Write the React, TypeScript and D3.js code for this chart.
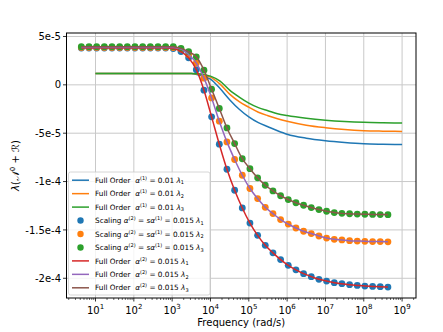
import { useEffect } from "react";
import * as d3 from "d3";

// frequencies (rad/s) of the scaling points and of the alpha(2) full-order lines
const freqDense = [
  4.27, 6.76, 10.7, 17.0, 26.9, 42.7, 67.6, 107, 170, 269, 427, 676, 1070, 1700,
  2690, 4270, 6760, 1.07e4, 1.7e4, 2.69e4, 4.27e4, 6.76e4, 1.07e5, 1.7e5,
  2.69e5, 4.27e5, 6.76e5, 1.07e6, 1.7e6, 2.69e6, 4.27e6, 6.76e6, 1.07e7,
  1.7e7, 2.69e7, 4.27e7, 6.76e7, 1.07e8, 1.7e8, 2.69e8, 4.27e8,
];
// values in units of 1e-5
const alpha2L1 = [
  3.8, 3.8, 3.8, 3.8, 3.8, 3.8, 3.8, 3.8, 3.8, 3.8, 3.8, 3.8, 3.75, 3.44, 2.8,
  1.57, -0.55, -3.31, -6.14, -8.73, -10.9, -12.73, -14.29, -15.56, -16.59,
  -17.37, -18.07, -18.66, -19.13, -19.52, -19.83, -20.11, -20.29, -20.46,
  -20.56, -20.66, -20.74, -20.81, -20.84, -20.87, -20.91,
];
const alpha2L2 = [
  3.87, 3.87, 3.87, 3.87, 3.87, 3.87, 3.87, 3.87, 3.87, 3.87, 3.87, 3.87, 3.85,
  3.7, 3.13, 2.25, 0.69, -1.35, -3.76, -5.9, -7.72, -9.35, -10.72, -11.76,
  -12.66, -13.31, -13.93, -14.4, -14.8, -15.14, -15.38, -15.63, -15.84, -15.97,
  -16.04, -16.11, -16.15, -16.18, -16.21, -16.21, -16.23,
];
const alpha2L3 = [
  3.95, 3.95, 3.95, 3.95, 3.95, 3.95, 3.95, 3.95, 3.95, 3.95, 3.95, 3.95, 3.95,
  3.77, 3.42, 2.9, 1.52, -0.45, -2.44, -4.46, -6.07, -7.64, -8.67, -9.61,
  -10.38, -10.97, -11.47, -11.86, -12.19, -12.45, -12.69, -12.9, -13.07,
  -13.21, -13.29, -13.33, -13.36, -13.38, -13.4, -13.41, -13.42,
];

// alpha(1) full-order lines
const freqA1 = [
  10, 100, 1000, 3162, 5623, 1e4, 17783, 31623, 56234, 1e5, 177828, 316228,
  562341, 1e6, 3.162e6, 1e7, 3.162e7, 1e8, 3.162e8, 1e9,
];
const alpha1L1 = [
  1.18, 1.18, 1.18, 1.16, 0.95, 0.59, -0.39, -1.53, -2.52, -3.31, -3.91, -4.33,
  -4.74, -5.1, -5.52, -5.78, -5.96, -6.09, -6.14, -6.17,
];
const alpha1L2 = [
  1.18, 1.18, 1.18, 1.18, 1.06, 0.8, 0.07, -0.96, -1.74, -2.31, -2.83, -3.19,
  -3.5, -3.76, -4.17, -4.43, -4.62, -4.74, -4.79, -4.82,
];
const alpha1L3 = [
  1.18, 1.18, 1.18, 1.18, 1.11, 0.9, 0.38, -0.55, -1.27, -1.89, -2.36, -2.67,
  -2.98, -3.17, -3.45, -3.65, -3.79, -3.88, -3.92, -3.94,
];

const yTickValues = [5e-5, 0, -5e-5, -1e-4, -1.5e-4, -2e-4];
const yTickLabels = ["5e-5", "0", "-5e-5", "-1e-4", "-1.5e-4", "-2e-4"];
const xExponents = [1, 2, 3, 4, 5, 6, 7, 8, 9];

const C = ["#1f77b4", "#ff7f0e", "#2ca02c", "#d62728", "#9467bd", "#8c564b"];
const FONT = "DejaVu Sans, sans-serif";

const legendItems = [
  { kind: "line", color: C[0], pre: "Full Order  ", a: "(1)", mid: " = 0.01 ", l: "1", s: false },
  { kind: "line", color: C[1], pre: "Full Order  ", a: "(1)", mid: " = 0.01 ", l: "2", s: false },
  { kind: "line", color: C[2], pre: "Full Order  ", a: "(1)", mid: " = 0.01 ", l: "3", s: false },
  { kind: "dot", color: C[0], pre: "Scaling ", a: "(2)", mid: " = 0.015 ", l: "1", s: true },
  { kind: "dot", color: C[1], pre: "Scaling ", a: "(2)", mid: " = 0.015 ", l: "2", s: true },
  { kind: "dot", color: C[2], pre: "Scaling ", a: "(2)", mid: " = 0.015 ", l: "3", s: true },
  { kind: "line", color: C[3], pre: "Full Order  ", a: "(2)", mid: " = 0.015 ", l: "1", s: false },
  { kind: "line", color: C[4], pre: "Full Order  ", a: "(2)", mid: " = 0.015 ", l: "2", s: false },
  { kind: "line", color: C[5], pre: "Full Order  ", a: "(2)", mid: " = 0.015 ", l: "3", s: false },
];

export default function App() {
  useEffect(() => {
    document.body.style.margin = "0";
  }, []);

  const W = 443,
    H = 332;
  const left = 66.5,
    right = 416,
    top = 33,
    bottom = 298;

  const x = d3
    .scaleLog()
    .domain([Math.pow(10, 0.243), Math.pow(10, 9.363)])
    .range([left, right]);
  const y = d3.scaleLinear().domain([5.36e-5, -2.204e-4]).range([top, bottom]);

  const toPts = (fs: number[], vs: number[]) =>
    fs.map((f, i) => [x(f), y(vs[i] * 1e-5)] as [number, number]);
  const line = d3.line().curve(d3.curveMonotoneX);

  const minor: number[] = [];
  for (let e = 0; e <= 9; e++) {
    for (let m = 2; m <= 9; m++) {
      const v = m * Math.pow(10, e);
      if (v > x.domain()[0] && v < x.domain()[1]) minor.push(v);
    }
  }

  const a1 = [alpha1L1, alpha1L2, alpha1L3];
  const a2 = [alpha2L1, alpha2L2, alpha2L3];

  const lgX = 68.5,
    lgY = 172,
    lgW = 141.5,
    lgH = 123,
    rowH = 13.45;

  return (
    <svg
      width={W}
      height={H}
      style={{ position: "absolute", left: 0, top: 0, background: "#fff" }}
      fontFamily={FONT}
    >
      {/* grid */}
      <g stroke="#c9c9c9" strokeWidth={1}>
        {xExponents.map((e) => (
          <line key={e} x1={x(Math.pow(10, e))} x2={x(Math.pow(10, e))} y1={top} y2={bottom} />
        ))}
        {yTickValues.map((v) => (
          <line key={v} x1={left} x2={right} y1={y(v)} y2={y(v)} />
        ))}
      </g>

      {/* alpha(1) full order */}
      {a1.map((vs, i) => (
        <path key={"a1" + i} d={line(toPts(freqA1, vs)) || ""} fill="none" stroke={C[i]} strokeWidth={1.5} />
      ))}

      {/* scaling dots */}
      {a2.map((vs, i) => (
        <g key={"s" + i} fill={C[i]}>
          {toPts(freqDense, vs).map((p, j) => (
            <circle key={j} cx={p[0]} cy={p[1]} r={3.4} />
          ))}
        </g>
      ))}

      {/* alpha(2) full order */}
      {a2.map((vs, i) => (
        <path key={"a2" + i} d={line(toPts(freqDense, vs)) || ""} fill="none" stroke={C[i + 3]} strokeWidth={1.5} />
      ))}

      {/* spines */}
      <rect x={left} y={top} width={right - left} height={bottom - top} fill="none" stroke="#000" strokeWidth={1} />

      {/* x ticks */}
      <g stroke="#000" strokeWidth={0.8}>
        {xExponents.map((e) => (
          <line key={e} x1={x(Math.pow(10, e))} x2={x(Math.pow(10, e))} y1={bottom} y2={bottom + 3.5} />
        ))}
        {minor.map((v) => (
          <line key={v} x1={x(v)} x2={x(v)} y1={bottom} y2={bottom + 2} strokeWidth={0.6} />
        ))}
      </g>
      <g fontSize={10} textAnchor="middle" fill="#000">
        {xExponents.map((e) => (
          <text key={e} x={x(Math.pow(10, e))} y={313.5}>
            10
            <tspan dy={-4.5} fontSize={7}>
              {e}
            </tspan>
          </text>
        ))}
      </g>
      <text x={(left + right) / 2} y={325.5} fontSize={10} textAnchor="middle">
        Frequency (rad/s)
      </text>

      {/* y ticks */}
      <g stroke="#000" strokeWidth={0.8}>
        {yTickValues.map((v) => (
          <line key={v} x1={left - 3.5} x2={left} y1={y(v)} y2={y(v)} />
        ))}
      </g>
      <g fontSize={10} textAnchor="end">
        {yTickValues.map((v, i) => (
          <text key={v} x={61} y={y(v) + 3.6}>
            {yTickLabels[i]}
          </text>
        ))}
      </g>
      <text
        transform={`translate(19, ${(top + bottom) / 2}) rotate(-90)`}
        fontSize={10}
        textAnchor="middle"
        style={{ whiteSpace: "pre" }}
      >
        <tspan fontStyle="italic">λ</tspan>(<tspan fontStyle="italic">𝒩</tspan>
        <tspan dy={-4} fontSize={7}>0</tspan>
        <tspan dy={4}> + </tspan>
        <tspan fontStyle="italic">ℛ</tspan>)
      </text>

      {/* legend */}
      <rect x={lgX} y={lgY} width={lgW} height={lgH} rx={2} fill="#fff" fillOpacity={0.8} stroke="#cccccc" strokeWidth={0.8} />
      {legendItems.map((it, i) => {
        const cy = 180.2 + i * rowH;
        return (
          <g key={i}>
            {it.kind === "line" ? (
              <line x1={72} x2={89} y1={cy} y2={cy} stroke={it.color} strokeWidth={1.5} />
            ) : (
              <circle cx={80.5} cy={cy} r={3.2} fill={it.color} />
            )}
            <text x={95} y={cy + 2.6} fontSize={7.3} style={{ whiteSpace: "pre" }}>
              {it.pre}
              <tspan fontStyle="italic">α</tspan>
              <tspan dy={-3} fontSize={5}>{it.a}</tspan>
              <tspan dy={3}>{it.s ? " = " : it.mid}</tspan>
              {it.s ? (
                <>
                  <tspan fontStyle="italic">sα</tspan>
                  <tspan dy={-3} fontSize={5}>(1)</tspan>
                  <tspan dy={3}>{it.mid}</tspan>
                </>
              ) : null}
              <tspan fontStyle="italic">λ</tspan>
              <tspan dy={1.6} fontSize={5}>{it.l}</tspan>
            </text>
          </g>
        );
      })}
    </svg>
  );
}
